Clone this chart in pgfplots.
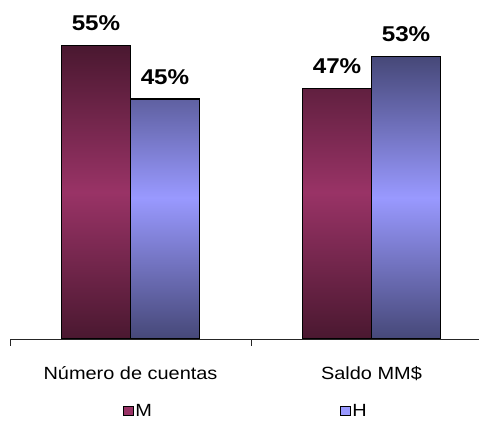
\documentclass[border=0pt]{standalone}
\usepackage{fontspec}
\setmainfont{Liberation Sans}[FakeStretch=1.13]
\usepackage{pgfplots}
\pgfplotsset{compat=1.18}
\definecolor{mdark}{HTML}{4A1830}
\definecolor{mmid}{HTML}{993366}
\definecolor{hdark}{HTML}{464878}
\definecolor{hmid}{HTML}{9999FF}
\begin{document}
\begin{tikzpicture}
\useasboundingbox (0,0) rectangle (479bp,422bp);
\begin{axis}[
  at={(10bp,83bp)}, anchor=south west,
  scale only axis, width=469bp, height=320bp,
  xmin=-0.5, xmax=1.446, ymin=0, ymax=60,
  axis y line=none, axis x line*=bottom,
  x axis line style={-, line width=0.8bp, draw=black!85},
  ybar=0pt, bar width=69bp,
  xtick={-0.5,0.5}, xticklabels={,},
  xtick align=outside, major tick length=6.5bp,
  tick style={draw=black!85, line width=0.8bp},
  extra x ticks={0,1},
  extra x tick labels={Número de cuentas,Saldo MM\$},
  extra x tick style={major tick length=0pt,
    tick label style={anchor=base, yshift=-40bp}},
  tick label style={font=\fontsize{17.7}{20}\selectfont},
  nodes near coords={\pgfmathprintnumber[assume math mode=true]{\pgfplotspointmeta}\%},
  every node near coord/.append style={font=\bfseries\fontsize{21.5}{24}\selectfont,
    anchor=base, yshift=15bp, text=black},
  legend columns=2,
  legend style={draw=none, fill=none, at={(0.503,-0.225)}, anchor=center,
    /tikz/every even column/.append style={column sep=186bp},
    font=\fontsize{17.7}{20}\selectfont},
]
\addplot[bar shift=-34.5bp, draw=black, line width=1.2bp, top color=mdark, bottom color=mdark, middle color=mmid, forget plot]
  coordinates {(0,55) (1,47)};
\addplot[bar shift=34.5bp, draw=black, line width=1.2bp, top color=hdark, bottom color=hdark, middle color=hmid, forget plot]
  coordinates {(0,45) (1,53)};
\addlegendimage{legend image code/.code={\draw[fill=mmid, draw=black, line width=0.8bp] (0bp,-4.5bp) rectangle (9.5bp,5bp);}}
\addlegendentry{M}
\addlegendimage{legend image code/.code={\draw[fill=hmid, draw=black, line width=0.8bp] (0bp,-4.5bp) rectangle (9.5bp,5bp);}}
\addlegendentry{H}
\end{axis}
\end{tikzpicture}
\end{document}
